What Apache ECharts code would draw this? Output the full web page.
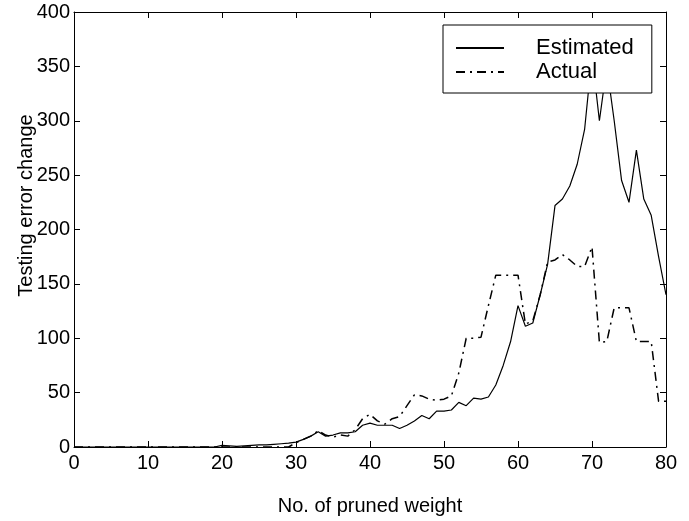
<!DOCTYPE html>
<html>
<head>
<meta charset="utf-8">
<script src="https://cdn.jsdelivr.net/npm/echarts@6/dist/echarts.min.js"></script>
<style>
  html, body { margin: 0; padding: 0; background: #fff; }
  #chart { width: 689px; height: 521px; }
</style>
</head>
<body>
<div id="chart"></div>
<script>
// x = number of pruned weights, 0..80
const prunedWeight = Array.from({ length: 81 }, (_, i) => i)

// solid line
const estimated = [
  0, 0, 0, 0, 0, 0, 0, 0, 0, 0,
  0, 0, 0, 0, 0, 0, 0, 0, 0, 0,
  1.5, 1, 0.5, 1, 1.5, 2, 2, 2.5, 3, 3.5,
  4.5, 7, 10, 14, 10, 11, 13, 13, 14, 20,
  22, 20, 20, 20, 17, 20, 24, 29, 26, 33,
  33, 34, 41, 38, 45, 44, 46, 57, 75, 97,
  130, 111, 114, 140, 168, 222, 228, 240, 260, 292,
  360, 300, 350, 300, 245, 225, 273, 228, 213, 175,
  140
]

// dash-dot line
const actual = [
  0, 0, 0, 0, 0, 0, 0, 0, 0, 0,
  0, 0, 0, 0, 0, 0, 0, 0, 0, 0,
  0, 0, 0, 0, 0, 0, 0, 0, 0, 0,
  4, 7, 10, 15, 11, 9, 11, 10, 16, 26,
  30, 24, 21, 26, 28, 38, 48, 47, 44, 43,
  44, 47, 68, 100, 100, 101, 130, 158, 158, 158,
  158, 113, 116, 140, 170, 172, 177, 172, 166, 166,
  184, 96, 97, 128, 128, 128, 97, 97, 97, 42,
  42
]

const font = 'Liberation Sans'

const chart = echarts.init(document.getElementById('chart'))

const tickStyle = { show: true, inside: true, length: 6, lineStyle: { color: '#000', width: 1 } }
const lineStyleAxis = { show: true, onZero: false, lineStyle: { color: '#000', width: 1 } }

const option = {
  backgroundColor: '#fff',
  animation: false,
  textStyle: { fontFamily: font, color: '#000' },
  grid: { left: 74, right: 23, top: 12, bottom: 74 },
  legend: {
    orient: 'vertical',
    left: 443,
    top: 25,
    padding: [12, 18, 10, 12],
    itemGap: 2,
    itemWidth: 48,
    itemHeight: 22,
    backgroundColor: '#fff',
    borderColor: '#000',
    borderWidth: 1,
    borderRadius: 0,
    itemStyle: { opacity: 0 },
    textStyle: { fontFamily: font, fontSize: 22, color: '#000', padding: [0, 0, 0, 27] },
    data: ['Estimated', 'Actual']
  },
  xAxis: [
    {
      type: 'value',
      min: 0,
      max: 80,
      interval: 10,
      name: 'No. of pruned weight',
      nameLocation: 'middle',
      nameGap: 49,
      nameTextStyle: { fontFamily: font, fontSize: 20, color: '#000' },
      axisLine: lineStyleAxis,
      axisTick: tickStyle,
      axisLabel: { fontFamily: font, fontSize: 20, color: '#000', margin: 6 },
      splitLine: { show: false }
    },
    {
      type: 'value',
      position: 'top',
      min: 0,
      max: 80,
      interval: 10,
      axisLine: lineStyleAxis,
      axisTick: tickStyle,
      axisLabel: { show: false },
      splitLine: { show: false }
    }
  ],
  yAxis: [
    {
      type: 'value',
      min: 0,
      max: 400,
      interval: 50,
      name: 'Testing error change',
      nameLocation: 'middle',
      nameGap: 38,
      nameMoveOverlap: false,
      nameTextStyle: { fontFamily: font, fontSize: 20, color: '#000', padding: [0, 0, 0, 48] },
      axisLine: lineStyleAxis,
      axisTick: tickStyle,
      axisLabel: { fontFamily: font, fontSize: 20, color: '#000', margin: 4 },
      splitLine: { show: false }
    },
    {
      type: 'value',
      position: 'right',
      min: 0,
      max: 400,
      interval: 50,
      axisLine: lineStyleAxis,
      axisTick: tickStyle,
      axisLabel: { show: false },
      splitLine: { show: false }
    }
  ],
  series: [
    {
      name: 'Estimated',
      type: 'line',
      data: prunedWeight.map((x, i) => [x, estimated[i]]),
      showSymbol: false,
      symbol: 'none',
      lineStyle: { color: '#000', width: 1.2, type: 'solid' },
      itemStyle: { color: '#000' }
    },
    {
      name: 'Actual',
      type: 'line',
      data: prunedWeight.map((x, i) => [x, actual[i]]),
      showSymbol: false,
      symbol: 'none',
      lineStyle: { color: '#000', width: 1.5, type: [9, 5, 2, 5] },
      itemStyle: { color: '#000' }
    }
  ]
}

chart.setOption(option)
</script>
</body>
</html>
